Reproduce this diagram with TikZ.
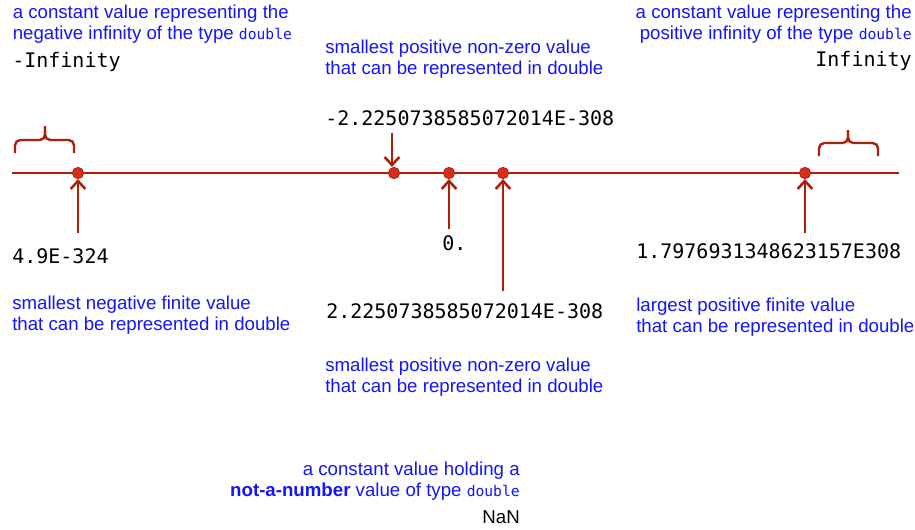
\documentclass[tikz,border=0pt]{standalone}
\usepackage{fontspec}
\setmainfont{Liberation Sans}
\setmonofont{DejaVu Sans Mono}
\usetikzlibrary{arrows.meta}
\definecolor{txtblue}{RGB}{20,20,250}
\definecolor{axred}{RGB}{175,30,10}
\definecolor{dotred}{RGB}{215,45,30}
\newcommand{\dbl}{{\fontsize{11}{12}\selectfont\ttfamily double}}
\tikzset{
  desc/.style={inner sep=0pt, text=txtblue, font=\fontsize{14}{15.4}\selectfont},
  val/.style={inner sep=0pt, text=black, font=\fontsize{15}{17}\selectfont\ttfamily},
  axis/.style={draw=axred, line width=1.8pt},
  pt/.style={circle, fill=dotred, draw=axred, line width=0.6pt, minimum size=8.5pt, inner sep=0pt},
  arr/.style={draw=axred, line width=1.9pt, -{Straight Barb[length=6pt,width=11pt,line width=1.9pt]}},
  brc/.style={draw=axred, line width=1.8pt, rounded corners=4pt},
}
\begin{document}
\begin{tikzpicture}[x=0.75pt,y=-0.75pt]
\useasboundingbox (0,0) rectangle (915,529);
% axis
\coordinate (L) at (12,173);
\coordinate (R) at (899,173);
\draw[axis] (L) -- (R);
\node[pt] (d1) at (78,173) {};
\node[pt] (d2) at (394,173) {};
\node[pt] (d3) at (449,173) {};
\node[pt] (d4) at (503,173) {};
\node[pt] (d5) at (805,173) {};
% braces
\draw[brc] (15,153) -- (15,140) -- (45,140) -- (45,126);
\draw[brc] (45,126) -- (45,140) -- (74,140) -- (74,153);
\draw[brc] (819,156) -- (819,143) -- (848,143) -- (848,130);
\draw[brc] (848,130) -- (848,143) -- (878,143) -- (878,156);
% top left
\node[desc, anchor=base west, align=left] (ninfd) at (12.5,39.5) {a constant value representing the\\negative infinity of the type \dbl};
\node[val, anchor=base west] (ninf) at (12,67) {-Infinity};
% top right
\node[desc, anchor=base east, align=right] (pinfd) at (912,39.5) {a constant value representing the\\positive infinity of the type \dbl};
\node[val, anchor=base east] (pinf) at (912,66) {Infinity};
% top middle
\node[desc, anchor=base west, align=left] (nminD) at (325,74) {smallest positive non-zero value\\that can be represented in double};
\node[val, anchor=base west] (nmin) at (325,125) {-2.2250738585072014E-308};
% bottom labels
\node[val, anchor=base west] (v49) at (12,263) {4.9E-324};
\node[val, anchor=base west] (v0) at (442,250) {0.};
\node[val, anchor=base west] (vmax) at (636,258) {1.7976931348623157E308};
\node[val, anchor=base west] (pmin) at (326,318) {2.2250738585072014E-308};
\node[desc, anchor=base west, align=left] (v49d) at (12,330) {smallest negative finite value\\that can be represented in double};
\node[desc, anchor=base west, align=left] (vmaxd) at (636,332) {largest positive finite value\\that can be represented in double};
\node[desc, anchor=base west, align=left] (pmind) at (325,392) {smallest positive non-zero value\\that can be represented in double};
% NaN
\node[desc, anchor=base east, align=right] (nand) at (520,496) {a constant value holding a\\\textbf{not-a-number} value of type \dbl};
\node[inner sep=0pt, anchor=base east, font=\fontsize{14}{16}\selectfont] (nan) at (520,523) {NaN};
% arrows
\coordinate (t2) at (392,133);
\coordinate (t1) at (78,233);
\coordinate (t3) at (449,229);
\coordinate (t4) at (503,291);
\coordinate (t5) at (805,233);
\draw[arr] (t2) -- (t2 |- d2.north);
\draw[arr] (t1) -- (d1.south);
\draw[arr] (t3) -- (d3.south);
\draw[arr] (t4) -- (d4.south);
\draw[arr] (t5) -- (d5.south);
\end{tikzpicture}
\end{document}
